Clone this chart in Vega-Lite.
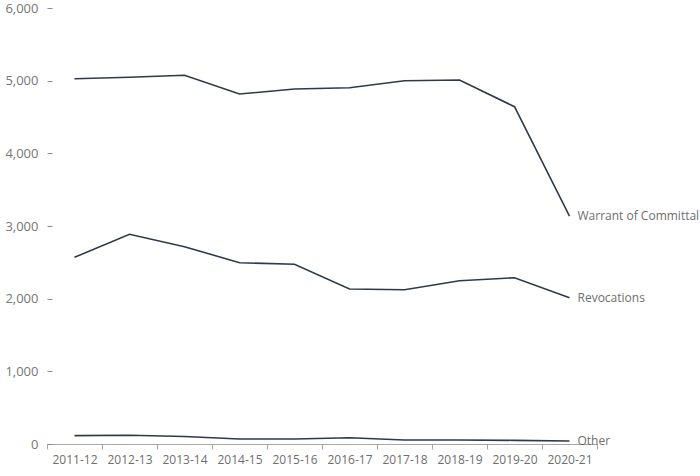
{
  "$schema": "https://vega.github.io/schema/vega-lite/v6.json",
  "width": 550,
  "height": 436,
  "autosize": "none",
  "padding": {"left": 47, "top": 8, "right": 103, "bottom": 32},
  "background": "white",
  "config": {"view": {"stroke": null}, "font": "Open Sans"},
  "data": {"values": [
    {"year": "2011-12", "series": "Warrant of Committal", "value": 5027},
    {"year": "2012-13", "series": "Warrant of Committal", "value": 5046},
    {"year": "2013-14", "series": "Warrant of Committal", "value": 5074},
    {"year": "2014-15", "series": "Warrant of Committal", "value": 4816},
    {"year": "2015-16", "series": "Warrant of Committal", "value": 4885},
    {"year": "2016-17", "series": "Warrant of Committal", "value": 4903},
    {"year": "2017-18", "series": "Warrant of Committal", "value": 4999},
    {"year": "2018-19", "series": "Warrant of Committal", "value": 5009},
    {"year": "2019-20", "series": "Warrant of Committal", "value": 4642},
    {"year": "2020-21", "series": "Warrant of Committal", "value": 3137},
    {"year": "2011-12", "series": "Revocations", "value": 2569},
    {"year": "2012-13", "series": "Revocations", "value": 2886},
    {"year": "2013-14", "series": "Revocations", "value": 2715},
    {"year": "2014-15", "series": "Revocations", "value": 2495},
    {"year": "2015-16", "series": "Revocations", "value": 2473},
    {"year": "2016-17", "series": "Revocations", "value": 2133},
    {"year": "2017-18", "series": "Revocations", "value": 2123},
    {"year": "2018-19", "series": "Revocations", "value": 2247},
    {"year": "2019-20", "series": "Revocations", "value": 2288},
    {"year": "2020-21", "series": "Revocations", "value": 2013},
    {"year": "2011-12", "series": "Other", "value": 115},
    {"year": "2012-13", "series": "Other", "value": 120},
    {"year": "2013-14", "series": "Other", "value": 103},
    {"year": "2014-15", "series": "Other", "value": 69},
    {"year": "2015-16", "series": "Other", "value": 69},
    {"year": "2016-17", "series": "Other", "value": 87},
    {"year": "2017-18", "series": "Other", "value": 55},
    {"year": "2018-19", "series": "Other", "value": 55},
    {"year": "2019-20", "series": "Other", "value": 50},
    {"year": "2020-21", "series": "Other", "value": 41}
  ]},
  "encoding": {
    "x": {
      "field": "year", "type": "ordinal", "title": null,
      "scale": {"type": "band", "paddingInner": 0, "paddingOuter": 0},
      "axis": {
        "labelAngle": 0, "tickBand": "extent", "domainColor": "#a6a6a6", "tickColor": "#a6a6a6",
        "tickSize": 5, "labelColor": "#6e6e6e", "labelFontSize": 12, "labelPadding": 5, "grid": false
      }
    },
    "y": {
      "field": "value", "type": "quantitative", "title": null,
      "scale": {"domain": [0, 6000], "nice": false},
      "axis": {
        "values": [0, 1000, 2000, 3000, 4000, 5000, 6000], "format": ",.0f", "grid": false,
        "domain": false, "offset": -5, "tickSize": 5, "tickColor": "#8c8c8c",
        "labelColor": "#767676", "labelFontSize": 13, "labelPadding": 9
      }
    }
  },
  "layer": [
    {
      "mark": {"type": "line", "color": "#2e3a4b", "strokeWidth": 1.6},
      "encoding": {"detail": {"field": "series"}}
    },
    {
      "transform": [{"filter": "datum.year === '2020-21'"}],
      "mark": {"type": "text", "align": "left", "baseline": "middle", "dx": 8, "color": "#6e6e6e", "fontSize": 12},
      "encoding": {"text": {"field": "series"}}
    }
  ]
}
